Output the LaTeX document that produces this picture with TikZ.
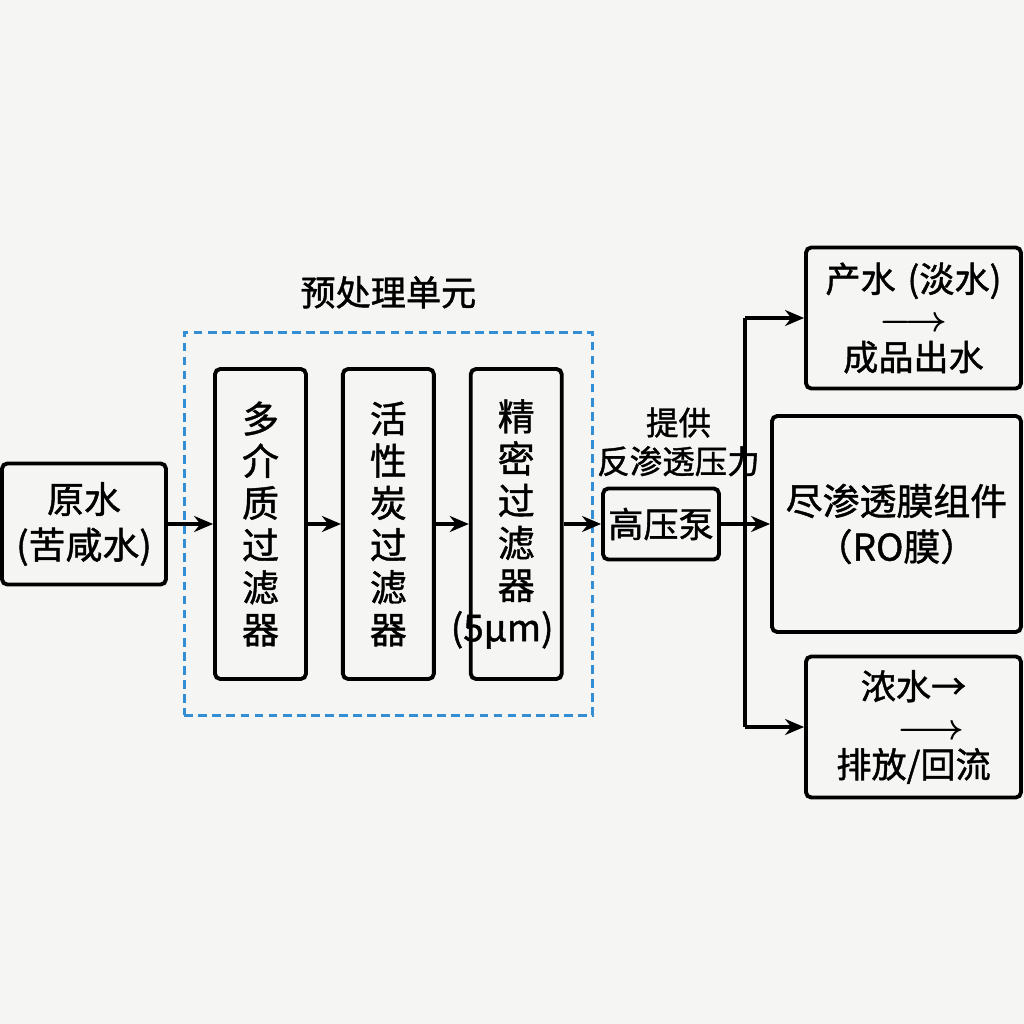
\documentclass[tikz,border=0pt]{standalone}
\usepackage{fontspec}
\setmainfont{Noto Sans CJK SC}[FakeBold=1.2]
\usetikzlibrary{positioning,arrows.meta,fit}
\definecolor{bggray}{RGB}{245,245,243}
\definecolor{preblue}{RGB}{52,142,212}
\tikzset{
  box/.style  = {rectangle, draw, rounded corners=3pt, line width=2.2pt,
                 align = center, inner sep=2pt,
                 font = \fontsize{21}{26}\selectfont},
  filt/.style = {box, minimum width=1.82cm, minimum height=6.2cm,
                 text width=1.6cm, font=\fontsize{21}{24}\selectfont},
  outbox/.style = {box, minimum width=4.3cm, minimum height=2.82cm,
                 text width=4cm, font=\fontsize{20}{20}\selectfont},
  arr/.style  = {-{Stealth[length=3.8mm,width=3.2mm]}, line width=2.2pt},
  pipe/.style = {line width=2.2pt}
}
\begin{document}
\begin{tikzpicture}
  \fill[bggray] (0,0) rectangle (20.48,20.48);
  \useasboundingbox (0,0) rectangle (20.48,20.48);
  % Zulauf
  \node[box, minimum width=3.28cm, minimum height=2.42cm] (raw) at (1.68,10)
    {原水\\(苦咸水)};
  % Vorbehandlung
  \node[filt] (media) at (5.21,10) {多\\介\\质\\过\\滤\\器};
  \node[filt, right=0.66cm of media] (carbon) {活\\性\\炭\\过\\滤\\器};
  \node[filt, right=0.66cm of carbon] (fine) {精\\密\\过\\滤\\器\\\hspace*{-16pt}(5μm)};
  \node[draw=preblue, dashed, dash pattern=on 5pt off 3pt, line width=1.4pt,
        fit=(media)(fine), inner xsep=0.575cm, inner ysep=0.69cm] (pre) {};
  \node[font=\fontsize{20}{22}\selectfont] (pretitle)
    at ([yshift=0.78cm]pre.north) {预处理单元};
  % Pumpe
  \node[box, minimum width=2.32cm, minimum height=1.42cm,
        font=\fontsize{20}{24}\selectfont] (pump) at (13.22,10) {高压泵};
  \node[align=center, font=\fontsize{18.5}{22}\selectfont] (pumplab) at (13.57,11.64)
    {提供\\反渗透压力};
  % Verzweigung
  \coordinate (splittop) at (14.9,14.12);
  \coordinate (splitbot) at (14.9,5.94);
  \node[outbox] (product) at (18.27,14.12)
    {产水 (淡水)\\[2.5pt]{\boldmath$\longrightarrow$}\\[2pt]成品出水};
  \node[box, minimum width=4.98cm, minimum height=4.32cm] (ro) at (17.93,10)
    {尽渗透膜组件\\（RO膜）};
  \node[outbox] (brine) at (18.27,5.94)
    {浓水→\\[2.5pt]\hspace*{0.7cm}{\boldmath$\longrightarrow$}\\[2pt]排放/回流};
  % Pfeile
  \draw[arr] (raw) -- (media);
  \draw[arr] (media) -- (carbon);
  \draw[arr] (carbon) -- (fine);
  \draw[arr] (fine) -- (pump);
  \draw[arr] (pump) -- (ro);
  \draw[pipe] (splittop) -- (splitbot);
  \draw[arr] (splittop) -- (product.west);
  \draw[arr] (splitbot) -- (brine.west);
\end{tikzpicture}
\end{document}
